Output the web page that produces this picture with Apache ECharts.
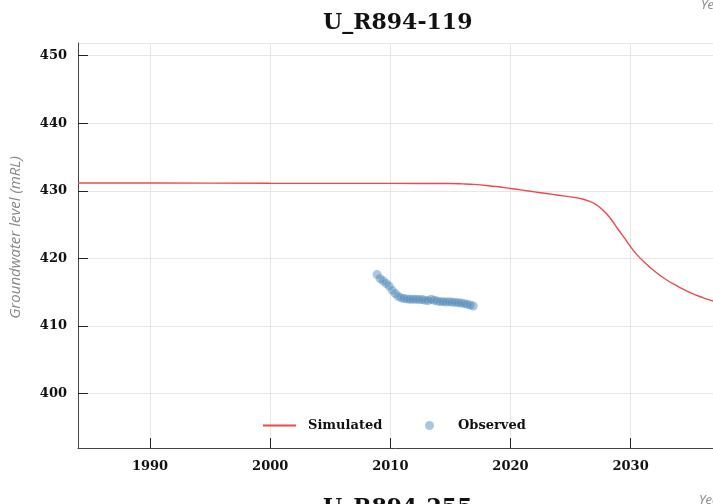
<!DOCTYPE html>
<html>
<head>
<meta charset="utf-8">
<script src="https://cdn.jsdelivr.net/npm/echarts@6/dist/echarts.min.js"></script>
<style>
  html, body { margin: 0; padding: 0; background: #fff; overflow: hidden; }
  #chart { width: 713px; height: 504px; }
</style>
</head>
<body>
<div id="chart"></div>
<script>
(function () {
    'use strict';

    // simulated groundwater level (year, mRL)
    var simYears = [1984, 1990, 2000, 2010, 2015, 2016, 2017, 2018, 2019, 2020, 2021, 2022, 2023, 2024,
        2025, 2026, 2026.5, 2027, 2027.5, 2028, 2028.5, 2029, 2029.5, 2030, 2030.5, 2031, 2032, 2033, 2034,
        2035, 2036, 2037, 2038];
    var simLevels = [431.15, 431.15, 431.12, 431.1, 431.08, 431.03, 430.95, 430.8, 430.6, 430.35, 430.1, 429.85, 429.6, 429.35,
        429.1, 428.8, 428.5, 428.1, 427.45, 426.6, 425.5, 424.2, 423.0, 421.7, 420.6, 419.7, 418.1, 416.8, 415.8,
        414.9, 414.2, 413.6, 413.0];

    // observed groundwater level (year, mRL)
    var obsYears = [2008.9, 2009.15, 2009.4, 2009.65, 2009.9, 2010.15, 2010.4, 2010.65, 2010.9, 2011.15, 2011.4,
        2011.65, 2011.9, 2012.15, 2012.4, 2012.65, 2012.9, 2013.15, 2013.4, 2013.65, 2013.9, 2014.15, 2014.4,
        2014.65, 2014.9, 2015.15, 2015.4, 2015.65, 2015.9, 2016.15, 2016.4, 2016.65, 2016.9];
    var obsLevels = [417.6, 417.0, 416.7, 416.3, 415.9, 415.3, 414.8, 414.4, 414.15, 414.05, 414.0,
        413.95, 413.95, 413.95, 413.9, 413.9, 413.8, 413.75, 413.95, 413.8, 413.7, 413.6, 413.6,
        413.55, 413.6, 413.5, 413.5, 413.45, 413.4, 413.3, 413.2, 413.1, 412.95];

    var seriesNames = ['Simulated', 'Observed'];
    var titles = ['U_R894-119', 'U_R894-255'];

    var pairs = function (xs, ys) {
        return xs.map(function (x, i) { return [x, ys[i]]; });
    };

    var serif = 'DejaVu Serif';
    var labelFont = { fontFamily: serif, fontWeight: 'bold', fontSize: 13, color: '#111' };
    var myChart = echarts.init(document.getElementById('chart'));

    var option = {
        animation: false,
        title: [{
            text: titles[0],
            left: 318,
            top: 7,
            textStyle: { fontFamily: serif, fontWeight: 'bold', fontSize: 22, color: '#111' }
        }, {
            text: titles[1],
            left: 318,
            top: 492,
            textStyle: { fontFamily: serif, fontWeight: 'bold', fontSize: 22, color: '#111' }
        }],
        graphic: [{
            type: 'text',
            left: 701,
            top: -1,
            style: { text: 'Year', font: 'italic 13px "Open Sans"', fill: '#888' }
        }, {
            type: 'text',
            left: 699,
            top: 494,
            style: { text: 'Year', font: 'italic 13px "Open Sans"', fill: '#888' }
        }],
        legend: [{
            left: 262,
            top: 419,
            padding: 0,
            itemWidth: 33,
            itemHeight: 9,
            textStyle: Object.assign({ padding: [0, 0, 0, 7] }, labelFont),
            data: [{ name: seriesNames[0], itemStyle: { opacity: 0 } }]
        }, {
            left: 425,
            top: 419,
            padding: 0,
            itemWidth: 9,
            itemHeight: 9,
            textStyle: Object.assign({ padding: [0, 0, 0, 19] }, labelFont),
            data: [seriesNames[1]]
        }],
        grid: {
            left: 76,
            top: 43,
            right: 0,
            bottom: 56
        },
        xAxis: {
            type: 'value',
            min: 1984,
            max: 2036.86,
            axisLine: { lineStyle: { color: '#444' } },
            axisTick: { inside: true, length: 10, lineStyle: { color: '#222' } },
            axisLabel: Object.assign({
                showMinLabel: false,
                showMaxLabel: false,
                margin: 12,
                formatter: function (v) { return String(v); }
            }, labelFont),
            splitLine: { show: true, lineStyle: { color: '#e6e6e6' } }
        },
        yAxis: {
            type: 'value',
            min: 391.94,
            max: 451.88,
            name: 'Groundwater level (mRL)',
            nameLocation: 'middle',
            nameGap: 55,
            nameTextStyle: {
                fontFamily: 'Open Sans', fontStyle: 'italic', fontSize: 15, color: '#888',
                padding: [0, 0, 0, 16]
            },
            axisLine: { show: true, lineStyle: { color: '#444' } },
            axisTick: { show: true, inside: true, length: 10, lineStyle: { color: '#222' } },
            axisLabel: Object.assign({
                showMinLabel: false,
                showMaxLabel: false,
                margin: 11
            }, labelFont),
            splitLine: { show: true, lineStyle: { color: '#e6e6e6' } }
        },
        series: [{
            name: seriesNames[0],
            type: 'line',
            symbol: 'none',
            smooth: 0.4,
            lineStyle: { color: '#f04848', width: 1.4 },
            itemStyle: { color: '#f04848' },
            data: pairs(simYears, simLevels)
        }, {
            name: seriesNames[1],
            type: 'scatter',
            symbolSize: 9,
            itemStyle: { color: '#4682b4', opacity: 0.45 },
            data: pairs(obsYears, obsLevels)
        }]
    };

    myChart.setOption(option);
    window.addEventListener('resize', function () {
        myChart.resize();
    });
})();
</script>
</body>
</html>
